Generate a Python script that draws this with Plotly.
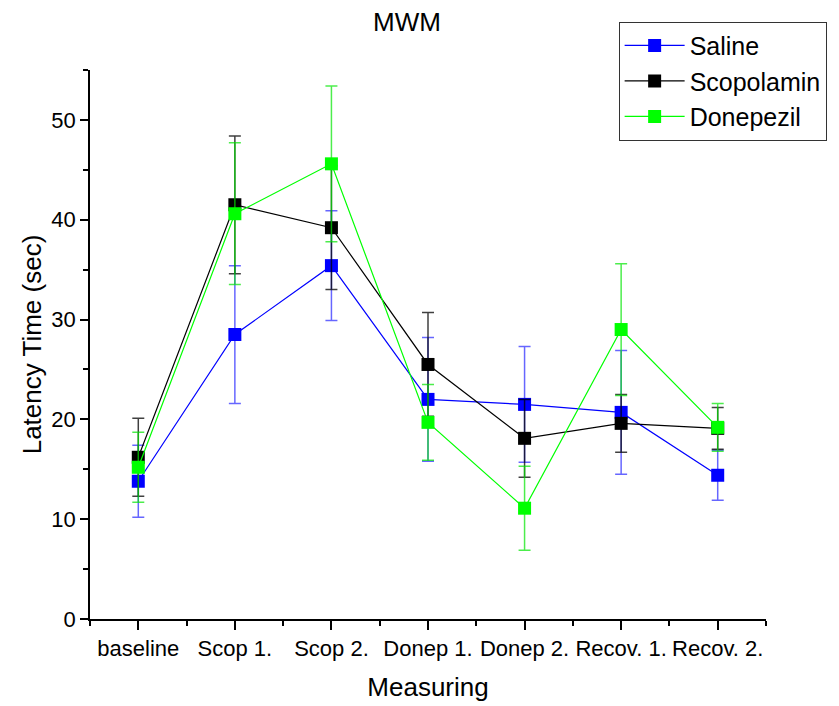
import plotly.graph_objects as go

categories = ["baseline", "Scop 1.", "Scop 2.", "Donep 1.", "Donep 2.", "Recov. 1.", "Recov. 2."]

saline = [13.8, 28.5, 35.4, 22.0, 21.5, 20.7, 14.4]
saline_err = [3.6, 6.9, 5.5, 6.2, 5.8, 6.2, 2.5]

scopolamin = [16.2, 41.5, 39.2, 25.5, 18.1, 19.6, 19.1]
scopolamin_err = [3.9, 6.9, 6.2, 5.2, 3.9, 2.9, 2.1]

donepezil = [15.2, 40.6, 45.6, 19.7, 11.1, 29.0, 19.2]
donepezil_err = [3.5, 7.1, 7.8, 3.8, 4.2, 6.6, 2.4]

series = [
    ("Saline", saline, saline_err, "#0000FF", "rgba(0,0,255,0.6)"),
    ("Scopolamin", scopolamin, scopolamin_err, "#000000", "rgba(0,0,0,0.75)"),
    ("Donepezil", donepezil, donepezil_err, "#00FF00", "rgba(0,230,0,0.7)"),
]

x = list(range(len(categories)))

fig = go.Figure()
for name, vals, errs, col, ecol in series:
    fig.add_trace(go.Scatter(
        x=x, y=vals, name=name, mode="lines+markers",
        line=dict(color=col, width=1.2),
        marker=dict(symbol="square", size=13, color=col),
        error_y=dict(type="data", array=errs, visible=True, color=ecol, thickness=1.5, width=6),
    ))

font_family = "Liberation Sans, Arial, sans-serif"

fig.update_layout(
    width=839, height=706,
    margin=dict(l=90, r=69, t=70, b=87),
    paper_bgcolor="white", plot_bgcolor="white",
    font=dict(family=font_family, color="black"),
    title=dict(text="MWM", x=0.485, xanchor="center", xref="container",
               y=0.969, yanchor="middle", yref="container",
               font=dict(size=26, family=font_family)),
    showlegend=True,
    legend=dict(x=0.782, y=1.088, xanchor="left", yanchor="top",
                bordercolor="#333333", borderwidth=1, bgcolor="white",
                font=dict(size=25, family=font_family), tracegroupgap=0,
                itemwidth=60),
)

fig.update_xaxes(
    range=[-0.5, 6.5], automargin=False,
    tickmode="array", tickvals=x, ticktext=categories, tickangle=0,
    showgrid=False, zeroline=False,
    showline=True, linecolor="black", linewidth=1.5,
    ticks="outside", ticklen=9, tickwidth=1.5, tickcolor="black",
    tickfont=dict(size=22, family=font_family),
    minor=dict(tickmode="array", tickvals=[-0.5, 0.5, 1.5, 2.5, 3.5, 4.5, 5.5, 6.5],
               ticks="outside", ticklen=5, tickwidth=1.5, tickcolor="black", showgrid=False),
    title=dict(text="Measuring", font=dict(size=26, family=font_family), standoff=18),
)

fig.update_yaxes(
    range=[0, 55], automargin=False,
    tickmode="linear", tick0=0, dtick=10,
    showgrid=False, zeroline=False,
    showline=True, linecolor="black", linewidth=1.5,
    ticks="outside", ticklen=8, tickwidth=1.5, tickcolor="black",
    tickfont=dict(size=22, family=font_family),
    minor=dict(tick0=5, dtick=10, ticks="outside", ticklen=5, tickwidth=1.5, tickcolor="black", showgrid=False),
    title=dict(text="Latency Time (sec)", font=dict(size=26, family=font_family), standoff=2),
)

fig.write_html("out.html")
